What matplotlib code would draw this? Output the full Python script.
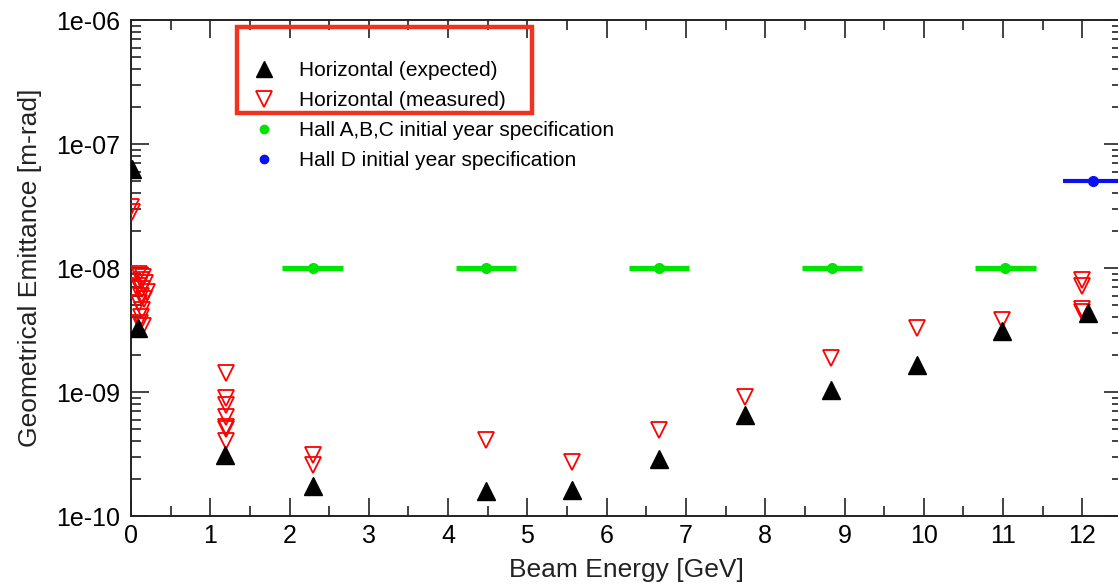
import matplotlib
matplotlib.use("Agg")
import matplotlib.pyplot as plt
from matplotlib.lines import Line2D
from matplotlib.patches import Rectangle
from matplotlib.ticker import LogLocator, MultipleLocator, FixedLocator, FixedFormatter

plt.rcParams['font.family'] = ['Liberation Sans', 'DejaVu Sans']

# ---- data ----
expected_x = [0.01, 0.09, 1.19, 2.30, 4.48, 5.56, 6.66, 7.74, 8.83, 9.91, 10.99, 12.07]
expected_y = [6.3e-8, 3.3e-9, 3.1e-10, 1.75e-10, 1.58e-10, 1.63e-10, 2.87e-10,
              6.5e-10, 1.04e-9, 1.66e-9, 3.1e-9, 4.34e-9]

measured_x = [0.00, 0.01,
              0.10, 0.15, 0.12, 0.18, 0.10, 0.14, 0.20, 0.12, 0.16, 0.10, 0.14, 0.13, 0.11, 0.15,
              1.20, 1.20, 1.20, 1.20, 1.20, 1.20, 1.20,
              2.30, 2.30,
              4.48, 5.56, 6.66, 7.74, 8.83, 9.91, 10.99,
              12.00, 12.00, 12.00, 12.00]
measured_y = [3.1e-8, 2.83e-8,
              8.9e-9, 8.4e-9, 8.0e-9, 7.6e-9, 7.2e-9, 6.8e-9, 6.4e-9, 6.0e-9, 5.6e-9, 5.2e-9,
              4.6e-9, 4.0e-9, 3.6e-9, 3.4e-9,
              1.42e-9, 8.9e-10, 7.85e-10, 6.3e-10, 5.25e-10, 5.0e-10, 4.03e-10,
              3.1e-10, 2.56e-10,
              4.1e-10, 2.75e-10, 4.9e-10, 9.1e-10, 1.87e-9, 3.3e-9, 3.81e-9,
              8.0e-9, 7.16e-9, 4.68e-9, 4.42e-9]

spec_abc_x = [2.29, 4.48, 6.66, 8.84, 11.03]
spec_abc_y = [1e-8, 1e-8, 1e-8, 1e-8, 1e-8]
spec_abc_xerr = [0.38, 0.38, 0.38, 0.38, 0.38]

spec_d_x = [12.13]
spec_d_y = [5e-8]
spec_d_xerr = [0.38]

legend_labels = ["Horizontal (expected)", "Horizontal (measured)",
                 "Hall A,B,C initial year specification", "Hall D initial year specification"]

x_ticks = list(range(0, 13))
y_ticks = [1e-10, 1e-9, 1e-8, 1e-7, 1e-6]
y_ticklabels = ["1e-10", "1e-09", "1e-08", "1e-07", "1e-06"]

GREEN = '#00e400'
BLUE = '#0a10f0'

# ---- figure ----
fig = plt.figure(figsize=(11.18, 5.86), dpi=100)
ax = fig.add_axes([131/1118, 1-516/586, (1122-131)/1118, (516-20)/586])

ax.errorbar(spec_abc_x, spec_abc_y, xerr=spec_abc_xerr, fmt='o', color=GREEN,
            ms=7, elinewidth=3.8, capsize=0, zorder=3)
ax.errorbar(spec_d_x, spec_d_y, xerr=spec_d_xerr, fmt='o', color=BLUE,
            ms=7, elinewidth=3.0, capsize=0, zorder=3)
ax.plot(measured_x, measured_y, linestyle='none', marker='v', ms=12, mfc='none',
        mec='#ff0000', mew=1.3, zorder=4)
ax.plot(expected_x, expected_y, linestyle='none', marker='^', ms=13, color='black',
        mec='black', zorder=5)

ax.set_yscale('log')
ax.set_xlim(0, 12.5)
ax.set_ylim(1e-10, 1e-6)

ax.xaxis.set_major_locator(FixedLocator(x_ticks))
ax.xaxis.set_minor_locator(MultipleLocator(0.5))
ax.yaxis.set_major_locator(FixedLocator(y_ticks))
ax.yaxis.set_major_formatter(FixedFormatter(y_ticklabels))
ax.yaxis.set_minor_locator(LogLocator(base=10, subs=range(2, 10), numticks=20))
ax.yaxis.set_minor_formatter(plt.NullFormatter())

ax.tick_params(which='both', direction='in', top=True, right=True, width=1.2, color='#222222')
ax.tick_params(which='major', length=13, labelsize=18, pad=6)
ax.tick_params(which='minor', length=7)
ax.tick_params(axis='y', which='major', pad=8)
for s in ax.spines.values():
    s.set_linewidth(1.4)
    s.set_color('#222222')

ax.set_xlabel("Beam Energy [GeV]", fontsize=19, labelpad=7, color='#222222')
ax.set_ylabel("Geometrical Emittance [m-rad]", fontsize=19, labelpad=10, color='#222222')

handles = [
    Line2D([], [], linestyle='none', marker='^', ms=11, color='black'),
    Line2D([], [], linestyle='none', marker='v', ms=11, mfc='none', mec='#ff0000', mew=1.3),
    Line2D([], [], linestyle='none', marker='o', ms=6, color=GREEN),
    Line2D([], [], linestyle='none', marker='o', ms=6, color=BLUE),
]
fig.legend(handles, legend_labels, loc='upper left', bbox_to_anchor=(251/1118, 1-61/586),
           frameon=False, fontsize=15, labelspacing=0.53, handletextpad=1.1,
           handlelength=1.2, borderpad=0, borderaxespad=0)

fig.patches.append(Rectangle((237/1118, 1-113/586), (532-237)/1118, (113-27)/586,
                             transform=fig.transFigure, fill=False, edgecolor='#f0321e',
                             linewidth=3.2, zorder=10))

fig.savefig("out.png", dpi=100)
